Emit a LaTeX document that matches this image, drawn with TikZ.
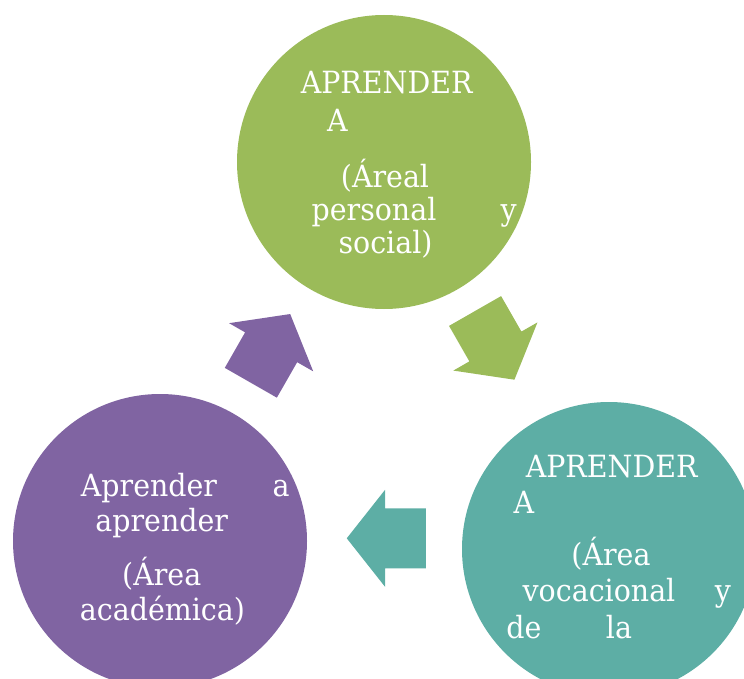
\documentclass[tikz,border=0pt]{standalone}
\usepackage{fontspec}
\setmainfont[FakeStretch=0.93]{DejaVu Serif}
\definecolor{greenA}{HTML}{9BBB59}
\definecolor{purpleA}{HTML}{8064A2}
\definecolor{tealA}{HTML}{5DAEA5}
\tikzset{
  bubble/.style={circle, inner sep=0pt, minimum size=294pt},
  txt/.style={anchor=base, inner sep=0pt, text=white, font=\fontsize{30.6}{36}\selectfont},
  pics/blockarrow/.style={code={
    \fill[pic actions] (-39.6,-30) -- (1.3,-30) -- (1.3,-48.5) -- (39.6,0)
      -- (1.3,48.5) -- (1.3,30) -- (-39.6,30) -- cycle;}}
}
\begin{document}
\begin{tikzpicture}[x=1pt,y=1pt]
\useasboundingbox (0,0) rectangle (744,-679);
\clip (0,0) rectangle (744,-679);
% circles
\node[bubble, fill=greenA]  (green)  at (384,-162) {};
\node[bubble, fill=tealA]   (teal)   at (609,-549) {};
\node[bubble, fill=purpleA] (purple) at (160,-541) {};
% arrows
\pic[fill=greenA, rotate=-60.2] (arrGT) at (494.75,-345.35) {blockarrow};
\pic[fill=tealA, rotate=180] (arrTP) at (386.35,-538.3) {blockarrow};
\pic[fill=purpleA, rotate=60.2] (arrPG) at (270.5,-348.4) {blockarrow};
% green text
\node[txt] (g1) at (386.7,-94) {APRENDER};
\node[txt] (g2) at (337.5,-131.7) {A};
\node[txt] (g3) at (385,-187.3) {(Áreal};
\node[txt] (g4) at (374,-220) {personal};
\node[txt] (g5) at (508.7,-220) {y};
\node[txt] (g6) at (385.5,-253.3) {social)};
% teal text
\node[txt] (t1) at (611.7,-477) {APRENDER};
\node[txt] (t2) at (524,-513) {A};
\node[txt] (t3) at (611,-565) {(Área};
\node[txt] (t4) at (599,-601.7) {vocacional};
\node[txt] (t5) at (723,-601.7) {y};
\node[txt] (t6) at (524,-638) {de};
\node[txt] (t7) at (619,-638) {la};
% purple text
\node[txt] (p1) at (149,-496) {Aprender};
\node[txt] (p2) at (281,-496) {a};
\node[txt] (p3) at (161.7,-531.7) {aprender};
\node[txt] (p4) at (161.7,-585) {(Área};
\node[txt] (p5) at (162.5,-620) {académica)};
\end{tikzpicture}
\end{document}
